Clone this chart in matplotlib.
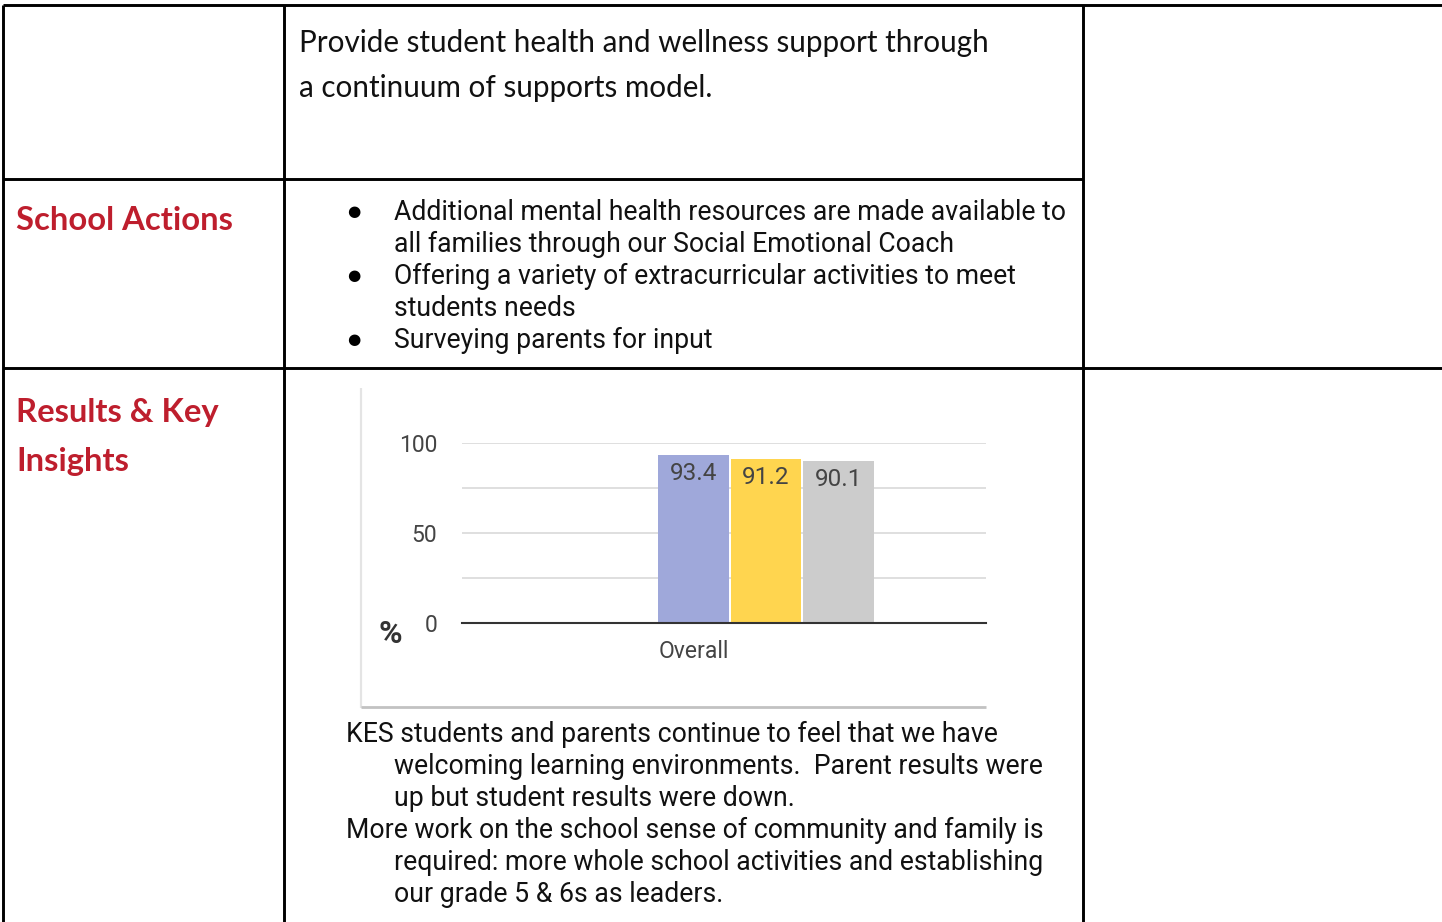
import matplotlib
matplotlib.use("Agg")
import matplotlib.pyplot as plt

# ---------------- data ----------------
categories = ["Overall"]
series_values = [93.4, 91.2, 90.1]
series_colors = ["#9fa8da", "#ffd54f", "#cccccc"]
y_ticks = [0, 25, 50, 75, 100]
y_tick_labels = ["0", "", "50", "", "100"]
y_title = "%"

goal_lines = ["Provide student health and wellness support through",
              "a continuum of supports model."]
heading_actions = "School Actions"
heading_results = ["Results & Key", "Insights"]
action_bullets = [
    ["Additional mental health resources are made available to",
     "all families through our Social Emotional Coach"],
    ["Offering a variety of extracurricular activities to meet",
     "students needs"],
    ["Surveying parents for input"],
]
insight_paragraphs = [
    ["KES students and parents continue to feel that we have",
     "welcoming learning environments.  Parent results were",
     "up but student results were down."],
    ["More work on the school sense of community and family is",
     "required: more whole school activities and establishing",
     "our grade 5 & 6s as leaders."],
]

W, H = 1442, 922
fig = plt.figure(figsize=(W / 100, H / 100), dpi=100)
fig.patch.set_facecolor("white")

# page / table layer in pixel coordinates
ax0 = fig.add_axes([0, 0, 1, 1])
ax0.set_xlim(0, W)
ax0.set_ylim(H, 0)
ax0.axis("off")

LW = 2.1
k = "#000000"
ax0.plot([3, W], [5, 5], color=k, lw=LW, solid_capstyle="butt")
ax0.plot([3, 1083], [179, 179], color=k, lw=LW, solid_capstyle="butt")
ax0.plot([3, W], [368, 368], color=k, lw=LW, solid_capstyle="butt")
ax0.plot([3, 3], [5, H], color=k, lw=LW, solid_capstyle="butt")
ax0.plot([284, 284], [5, H], color=k, lw=LW, solid_capstyle="butt")
ax0.plot([1083, 1083], [5, H], color=k, lw=LW, solid_capstyle="butt")

RED = "#be1e2d"
calibri_like = ["Lato", "DejaVu Sans"]
body = ["Roboto", "DejaVu Sans"]

# goal text
for i, line in enumerate(goal_lines):
    ax0.text(299, 52 + 45 * i, line, fontsize=21.3, family=calibri_like,
             color="#111111", va="baseline", ha="left")

# headings
ax0.text(16, 230, heading_actions, fontsize=23.6, family=calibri_like,
         weight="bold", color=RED, va="baseline", ha="left")
for i, line in enumerate(heading_results):
    ax0.text(16, 422 + 49 * i, line, fontsize=23.6, family=calibri_like,
             weight="bold", color=RED, va="baseline", ha="left")

# bullets
row = 0
for item in action_bullets:
    for j, line in enumerate(item):
        yb = 220 + 32 * row
        if j == 0:
            ax0.text(354, yb - 9, "\u25cf", fontsize=11, family=["DejaVu Sans"],
                     color="#000000", va="center", ha="center")
        ax0.text(394, yb, line, fontsize=19.2, family=body,
                 color="#111111", va="baseline", ha="left")
        row += 1

# insight paragraphs (hanging indent)
row = 0
for para in insight_paragraphs:
    for j, line in enumerate(para):
        yb = 742 + 32 * row
        ax0.text(346 if j == 0 else 394, yb, line, fontsize=19.2, family=body,
                 color="#111111", va="baseline", ha="left")
        row += 1

# chart frame (image border / shadow)
ax0.plot([361, 361], [388, 708], color="#e4e4e4", lw=1.6, solid_capstyle="butt")
ax0.plot([361, 986], [707, 707], color="#c2c2c2", lw=2.0, solid_capstyle="butt")

# ---------------- chart ----------------
pl, pr, pt, pb = 462, 986, 443, 623
ax = fig.add_axes([pl / W, (H - pb) / H, (pr - pl) / W, (pb - pt) / H])
ax.set_facecolor("none")
offsets = [0.0, 1.0, 2.0]
bw = 0.98
for k_i, (v, c) in enumerate(zip(series_values, series_colors)):
    for ci, cat in enumerate(categories):
        xpos = ci + offsets[k_i]
        ax.bar(xpos, v, width=bw, color=c, zorder=2)
        ax.annotate(f"{v}", (xpos, v), xytext=(0, -5), textcoords="offset points",
                    ha="center", va="top", fontsize=17.5, family=body,
                    color="#444444", zorder=3)

ax.set_xlim(-3.2, 4.04)
ax.set_ylim(0, 100)
ax.set_yticks(y_ticks)
ax.set_yticklabels(y_tick_labels)
ax.set_xticks(range(len(categories)))
ax.set_xticklabels(categories)
ax.tick_params(axis="y", length=0, pad=18, labelsize=16.5, labelcolor="#444444")
ax.tick_params(axis="x", length=0, pad=12, labelsize=16.5, labelcolor="#444444")
for lab in ax.get_yticklabels() + ax.get_xticklabels():
    lab.set_family(body)
ax.grid(axis="y", color="#d9d9d9", lw=1.2, zorder=0)
ax.set_axisbelow(True)
for s in ["top", "right", "left"]:
    ax.spines[s].set_visible(False)
ax.spines["bottom"].set_color("#333333")
ax.spines["bottom"].set_linewidth(1.5)
ax.spines["bottom"].set_zorder(4)
ax.set_ylabel(y_title, rotation=0, fontsize=23, weight="bold", family=body,
              color="#333333")
ax.yaxis.set_label_coords(-0.137, -0.062)
ax.yaxis.label.set_va("center")
ax.yaxis.label.set_ha("center")

fig.savefig("out.png", dpi=100, facecolor="white")
